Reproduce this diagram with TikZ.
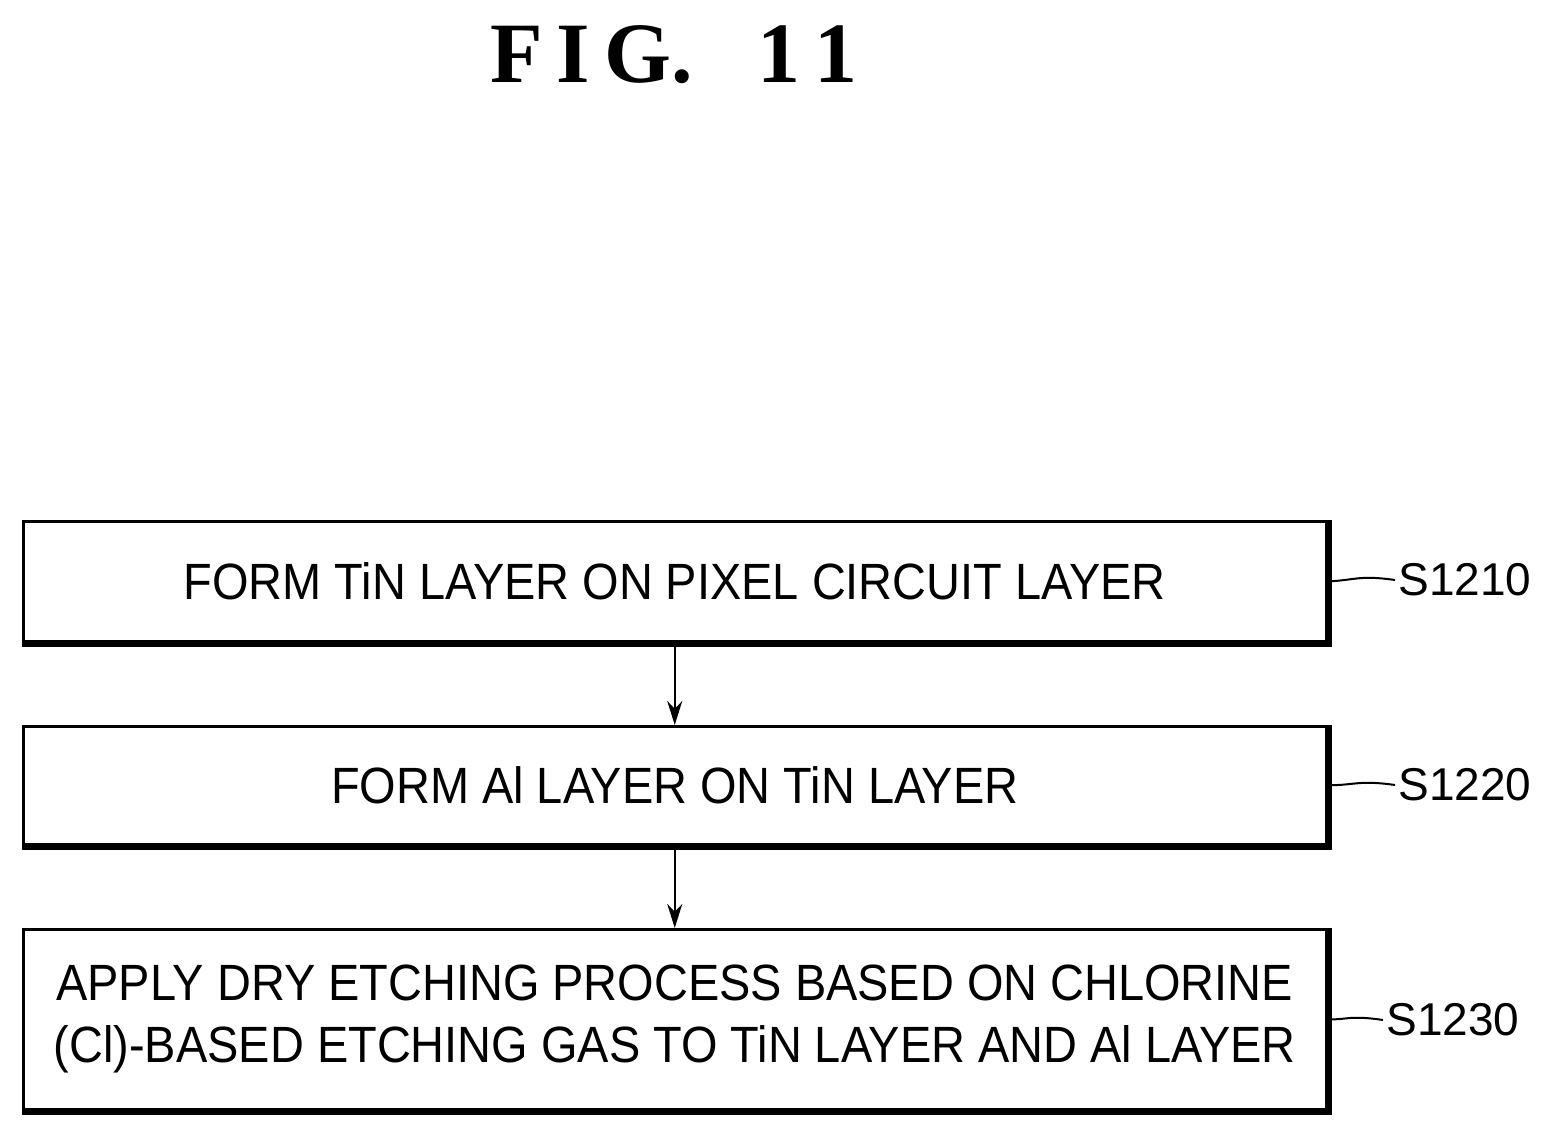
\documentclass[tikz,border=0pt]{standalone}
\usepackage{fontspec}
\setmainfont{Liberation Serif}
\setsansfont{Liberation Sans}
\usetikzlibrary{arrows.meta}
\begin{document}
\begin{tikzpicture}[x=1pt,y=-1pt,
 box/.style={draw,line width=2.5pt,minimum width=1303pt,anchor=north west,inner sep=0pt,align=center,font=\sffamily\fontsize{51}{62}\selectfont},
 lab/.style={font=\sffamily\fontsize{46}{52}\selectfont,anchor=west},
 arr/.style={line width=2.5pt,-{Stealth[length=24pt,width=15pt]}},
 lead/.style={line width=2pt}]
\useasboundingbox (0,0) rectangle (1559,1134);
\node[font=\rmfamily\bfseries\fontsize{86}{90}\selectfont] (t) at (674,55) {F\,I\,G.\ \ \ 1\,1};
\node[box,minimum height=120pt] (b1) at (22,520) {\scalebox{0.92}[1]{FORM TiN LAYER ON PIXEL CIRCUIT LAYER}};
\node[box,minimum height=118pt] (b2) at (22,725) {\scalebox{0.92}[1]{FORM Al LAYER ON TiN LAYER}};
\node[box,minimum height=180pt] (b3) at (22,928) {\scalebox{0.92}[1]{\begin{tabular}{c}APPLY DRY ETCHING PROCESS BASED ON CHLORINE\\(Cl)-BASED ETCHING GAS TO TiN LAYER AND Al LAYER\end{tabular}}};
\foreach \b in {b1,b2,b3}{
 \draw[line width=4pt] ([xshift=2pt]\b.north east) -- ([xshift=2pt,yshift=-2pt]\b.south east) -- ([yshift=-2pt]\b.south west);}
\draw[arr] (b1.south) -- (b2.north);
\draw[arr] (b2.south) -- (b3.north);
\node[lab] (s1) at (1395,580) {S1210};
\node[lab] (s2) at (1395,785) {S1220};
\node[lab] (s3) at (1383,1020) {S1230};
\draw[lead] ([xshift=3pt]b1.east) .. controls (1355,580) and (1360,575) .. (s1.west);
\draw[lead] ([xshift=3pt]b2.east) .. controls (1355,785) and (1360,780) .. (s2.west);
\draw[lead] ([xshift=3pt]b3.east) .. controls (1345,1020) and (1350,1015) .. (s3.west);
\end{tikzpicture}
\end{document}
